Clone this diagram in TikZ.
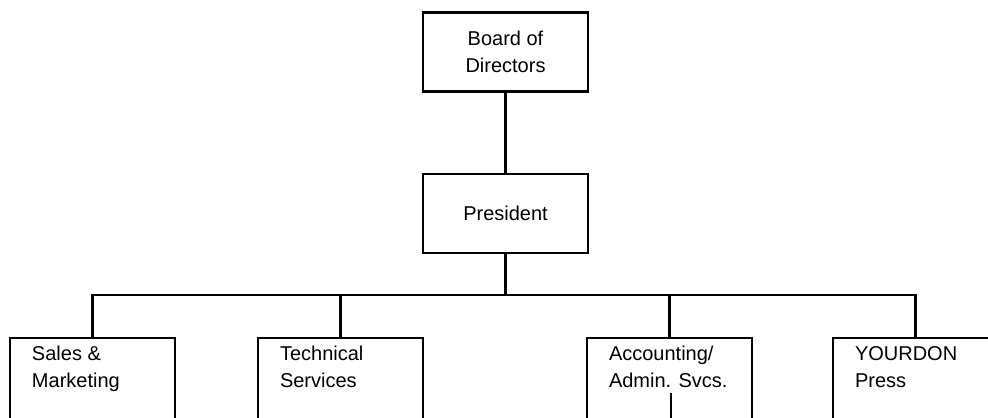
\documentclass[tikz,border=0pt]{standalone}
\usepackage{fontspec}
\setmainfont{Liberation Sans}
\usetikzlibrary{positioning}

\begin{document}
\begin{tikzpicture}[x=0.5pt, y=-0.5pt, node distance=40pt, line width=1.2pt, every node/.style={font=\fontsize{10}{13.5}\selectfont}, box/.style={draw,align=center,minimum width=82.5pt,minimum height=39.5pt,inner sep=0pt}, unit/.style={draw,anchor=north,minimum width=82.5pt,minimum height=42pt,inner sep=0pt}, utext/.style={anchor=north west,align=left,inner sep=0pt,xshift=11pt,yshift=-4pt}]
\path[use as bounding box,clip] (0,0) rectangle (988,417);
\node[box] (board) at (505.5,52) {Board of\\Directors};
\node[box,below=of board] (pres) {President};
\coordinate (bar) at (505.5,295);
\node[unit,label={[utext]north west:{Sales \&\\Marketing}}] (sales) at (92.5,337) {};
\node[unit,label={[utext]north west:{Technical\\Services}}] (tech) at (340.5,337) {};
\node[unit,label={[utext]north west:{Accounting/\\Admin. Svcs.}}] (acct) at (669.5,337) {};
\node[unit,label={[utext]north west:{YOURDON\\Press}}] (press) at (915.5,337) {};
\draw (board)--(pres)--(bar);
\draw (sales.north) |- (bar) -| (press.north);
\draw (tech.north)--(tech.north |- bar);
\draw (acct.north)--(acct.north |- bar);
% stray stub inside the accounting box
\coordinate (stub) at (671,393);
\draw[line width=0.6pt] (stub)--(stub |- acct.south);
\end{tikzpicture}
\end{document}
